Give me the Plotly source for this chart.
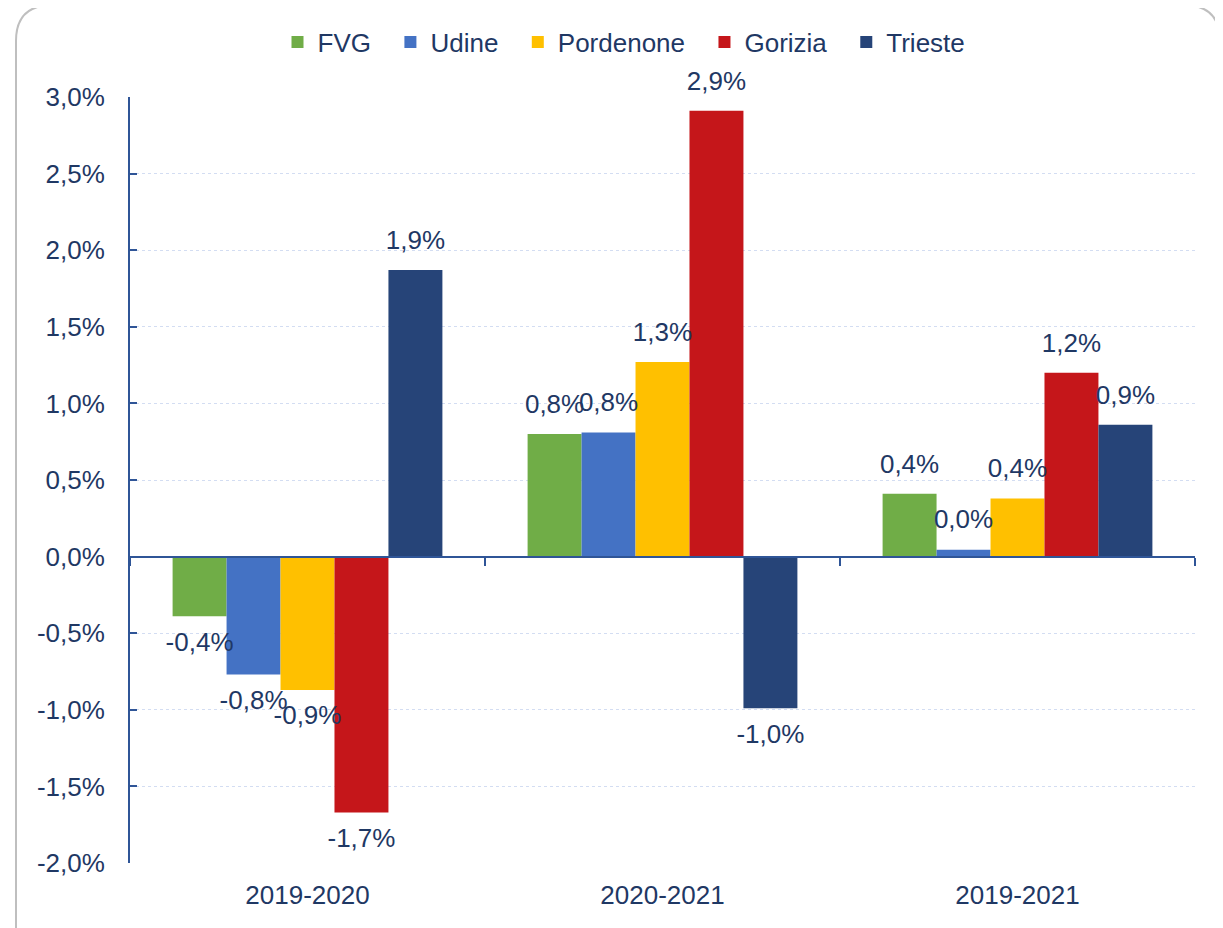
import plotly.graph_objects as go

categories = ["2019-2020", "2020-2021", "2019-2021"]
series_names = ["FVG", "Udine", "Pordenone", "Gorizia", "Trieste"]
fvg = [-0.39, 0.80, 0.41]
udine = [-0.77, 0.81, 0.045]
pordenone = [-0.87, 1.27, 0.38]
gorizia = [-1.67, 2.91, 1.20]
trieste = [1.87, -0.99, 0.86]
series_values = [fvg, udine, pordenone, gorizia, trieste]
colors = ["#70AD47", "#4472C4", "#FFC000", "#C5161A", "#264478"]
y_tickvals = [-2.0, -1.5, -1.0, -0.5, 0.0, 0.5, 1.0, 1.5, 2.0, 2.5, 3.0]
y_ticktext = ["-2,0%", "-1,5%", "-1,0%", "-0,5%", "0,0%", "0,5%", "1,0%", "1,5%", "2,0%", "2,5%", "3,0%"]

TXT = "#1F3864"
FONT = "Liberation Sans, Arial, sans-serif"
FS = 26
GAP = 0.24

def fmt(v):
    return f"{v:.1f}".replace(".", ",") + "%"

fig = go.Figure()
n = len(series_names)
for i, (name, vals, col) in enumerate(zip(series_names, series_values, colors)):
    legend_name = name + ("\u00a0\u00a0" if i < n - 1 else "")
    fig.add_trace(go.Bar(
        name=legend_name, x=categories, y=vals, offsetgroup=f"g{i}",
        marker=dict(color=col, line=dict(width=0)),
        hoverinfo="skip",
    ))
for i, (name, vals) in enumerate(zip(series_names, series_values)):
    fig.add_trace(go.Scatter(
        x=categories, y=vals, offsetgroup=f"g{i}", mode="markers+text",
        marker=dict(size=22, opacity=0), showlegend=False,
        text=[fmt(v) for v in vals],
        textposition=["top center" if v >= 0 else "bottom center" for v in vals],
        textfont=dict(size=FS, color=TXT, family=FONT),
        cliponaxis=False, hoverinfo="skip",
    ))

# invisible trace to carry the zero-line axis with category boundary ticks
fig.add_trace(go.Scatter(x=categories, y=[0, 0, 0], xaxis="x2", yaxis="y",
                         mode="markers", marker=dict(opacity=0), showlegend=False,
                         hoverinfo="skip"))

OFF = 8  # page body offset
W, H = 1223 - OFF, 928 - OFF
L, R, T, B = 130 - OFF, 28, 96 - OFF, 65
pw, ph = W - L - R, H - T - B

def px(x):
    return (x - OFF - L) / pw

def py(y):
    return (H - B - (y - OFF)) / ph

# rounded border path
x0, x1, y0, y1, r = 16, 1220, 4, 960, 36
path = (f"M {px(x0)},{py(y1)} L {px(x0)},{py(y0 + r)} Q {px(x0)},{py(y0)} {px(x0 + r)},{py(y0)} "
        f"L {px(x1 - r)},{py(y0)} Q {px(x1)},{py(y0)} {px(x1)},{py(y0 + r)} L {px(x1)},{py(y1)}")

fig.update_layout(
    width=W, height=H,
    margin=dict(l=L, r=R, t=T, b=B),
    paper_bgcolor="white", plot_bgcolor="white",
    barmode="group", bargap=GAP, bargroupgap=0,
    scattermode="group", scattergap=GAP,
    font=dict(family=FONT, color=TXT),
    legend=dict(orientation="h", x=px(624), xanchor="center", y=py(42), yanchor="middle",
                font=dict(size=FS, color=TXT, family=FONT), itemwidth=30,
                traceorder="normal"),
    xaxis=dict(type="category", showline=False, ticks="", showgrid=False,
               tickfont=dict(size=FS, color=TXT, family=FONT), ticklabelstandoff=14,
               range=[-0.5, 2.5]),
    xaxis2=dict(type="category", overlaying="x", anchor="free", position=0.4,
                side="bottom", showline=True, linecolor="#2F5597", linewidth=2,
                ticks="outside", ticklen=8, tickwidth=2, tickcolor="#2F5597",
                tickson="boundaries", showticklabels=False, showgrid=False,
                range=[-0.5, 2.5]),
    yaxis=dict(range=[-2, 3], tickvals=y_tickvals, ticktext=y_ticktext,
               showline=True, linecolor="#2F5597", linewidth=2,
               ticks="inside", ticklen=7, tickwidth=2, tickcolor="#2F5597",
               showgrid=True, gridcolor="#D3DDF2", griddash="dot", gridwidth=1,
               zeroline=False, tickfont=dict(size=FS, color=TXT, family=FONT),
               ticklabelstandoff=18),
    shapes=[dict(type="path", xref="paper", yref="paper", path=path,
                 line=dict(color="#BFBFBF", width=2), layer="below")],
)

fig.write_html("out.html")
